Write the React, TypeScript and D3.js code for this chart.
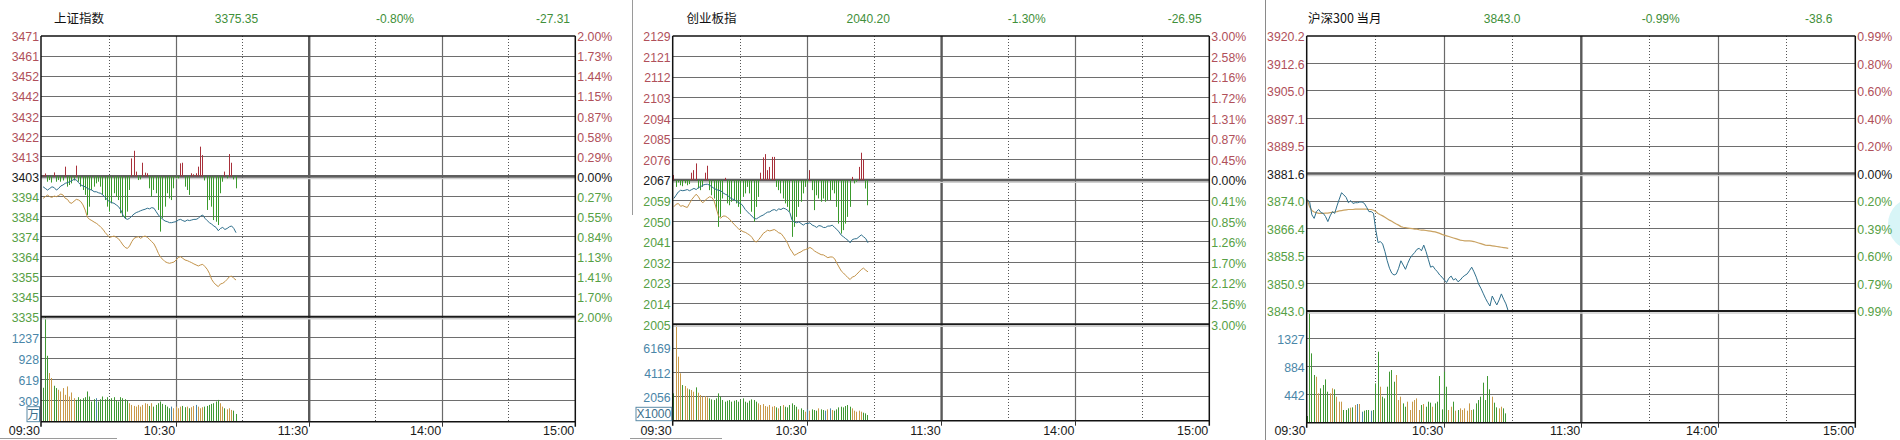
import React from 'react';
import * as d3 from 'd3';

// ---------------- DATA ----------------
// 上证指数 (minute index from 09:30)
const SH_PRICE = [3397.6,3396.8,3396.0,3396.8,3397.6,3397.2,3396.0,3396.8,3398.0,3398.5,
 3399.3,3399.6,3400.1,3400.6,3401.2,3400.9,3399.6,3398.5,3398.0,3397.6,
 3396.8,3396.3,3396.0,3395.2,3395.2,3394.7,3394.4,3393.6,3392.5,3391.2,
 3390.4,3389.9,3389.6,3388.8,3388.0,3386.4,3383.9,3382.3,3381.8,3382.3,
 3383.4,3384.4,3385.1,3385.5,3386.0,3386.4,3386.7,3387.2,3386.9,3387.5,
 3387.2,3385.5,3383.9,3382.8,3381.8,3381.0,3380.7,3380.2,3380.2,3380.5,
 3380.7,3381.5,3381.8,3381.2,3380.8,3381.5,3381.2,3381.5,3381.8,3381.8,
 3382.3,3383.4,3383.9,3382.3,3381.2,3380.2,3379.5,3378.6,3377.9,3376.3,
 3377.4,3377.9,3376.9,3377.4,3378.2,3378.6,3377.4,3375.35];
const SH_AVG = [3392.0,3392.8,3393.6,3392.8,3392.5,3393.1,3392.8,3393.4,3394.1,3393.6,
 3392.0,3391.5,3389.9,3389.6,3390.7,3391.5,3391.2,3390.4,3388.8,3386.3,
 3382.8,3381.8,3381.2,3380.5,3379.9,3379.1,3378.0,3377.0,3375.4,3374.2,
 3373.1,3373.4,3373.7,3373.1,3372.4,3371.0,3369.4,3368.2,3367.7,3368.9,
 3371.0,3372.6,3373.1,3373.4,3372.6,3373.4,3373.7,3373.1,3372.1,3371.0,
 3369.9,3367.8,3365.3,3363.4,3362.4,3361.3,3360.8,3360.5,3360.8,3361.1,
 3362.1,3363.4,3363.7,3362.9,3362.1,3361.8,3361.3,3360.8,3360.2,3359.7,
 3359.2,3359.7,3360.0,3358.9,3357.6,3355.6,3352.7,3351.1,3350.0,3349.2,
 3350.5,3350.8,3351.6,3352.7,3354.0,3354.3,3353.2,3352.4];
const SH_BARS = [0.5,1.4,-2.6,-1.8,-3.0,1.9,-2.6,-1.8,-2.6,-2.0,
 4.7,-5.0,-4.2,-3.4,-2.0,5.2,-2.6,-5.0,-6.6,-9.0,
 -18.7,-14.7,-6.6,-5.0,-3.4,-2.6,-5.0,-9.0,-11.5,-14.7,
 -17.1,-13.1,-8.2,-9.9,-11.5,-17.9,-19.6,-20.4,-17.1,-6.6,
 8.7,12.4,2.3,-1.8,-1.5,6.6,1.8,1.5,-5.8,-9.9,
 -6.6,-8.2,-16.3,-26.8,-20.4,-14.7,-8.2,-10.7,-11.5,-5.8,
 -1.0,-1.0,6.3,6.6,-5.0,-6.6,-9.0,1.5,1.0,1.5,
 4.7,14.4,10.3,-2.0,-16.3,-11.5,-14.7,-21.2,-22.0,-23.6,
 -8.2,-2.6,2.3,-1.0,10.8,6.6,-1.5,-5.8];
const SH_VOL = [500,1546,970,717,643,529,495,470,445,495,
 396,519,371,430,346,321,361,331,346,361,
 445,371,297,331,346,297,331,371,331,361,
 321,346,361,311,297,361,346,331,311,272,
 247,232,222,247,222,247,272,262,232,272,
 222,247,272,297,262,247,222,198,222,198,
 222,198,222,232,213,222,198,213,232,247,
 222,198,213,222,232,247,262,272,297,321,
 272,222,198,183,198,173,163,114];
const SH_LEFT = ["3471","3461","3452","3442","3432","3422","3413","3403","3394","3384","3374","3364","3355","3345","3335"];
const SH_RIGHT = ["2.00%","1.73%","1.44%","1.15%","0.87%","0.58%","0.29%","0.00%","0.27%","0.55%","0.84%","1.13%","1.41%","1.70%","2.00%"];
const SH_VOL_TICKS = ["1237","928","619","309"];

// 创业板指
const CY_PRICE = [2059.3,2060.7,2062.1,2062.8,2062.6,2062.8,2063.1,2062.6,2063.1,2063.6,
 2063.1,2064.0,2064.3,2065.0,2065.3,2065.4,2065.0,2064.3,2063.6,2063.1,
 2062.8,2062.6,2061.7,2061.1,2060.7,2059.7,2059.1,2058.8,2058.1,2057.4,
 2057.1,2056.0,2054.5,2053.5,2052.5,2051.7,2050.6,2050.5,2051.1,2051.7,
 2052.1,2052.8,2053.4,2053.5,2054.2,2054.5,2054.0,2054.8,2054.5,2055.1,
 2054.8,2054.2,2053.1,2049.9,2049.1,2048.8,2049.2,2048.5,2047.8,2048.5,
 2048.5,2048.8,2047.8,2047.4,2046.8,2047.6,2047.4,2046.8,2046.8,2047.4,
 2047.4,2047.8,2046.8,2046.0,2044.9,2043.5,2042.8,2042.0,2041.3,2040.2,
 2041.6,2041.9,2042.0,2042.8,2043.6,2042.8,2042.0,2040.2];
const CY_AVG = [2055.7,2056.8,2057.1,2055.9,2056.2,2055.7,2055.4,2057.1,2058.8,2060.0,
 2061.1,2060.0,2058.3,2057.4,2058.5,2059.3,2060.0,2059.7,2058.3,2055.0,
 2051.7,2050.8,2051.7,2051.7,2051.1,2050.3,2049.1,2048.2,2047.1,2046.2,
 2045.6,2045.0,2044.7,2044.1,2043.5,2042.5,2041.0,2040.5,2041.6,2042.8,
 2044.2,2044.9,2045.6,2045.3,2045.6,2045.9,2045.3,2044.5,2044.2,2043.0,
 2041.6,2039.9,2037.7,2036.3,2034.8,2035.3,2035.9,2036.3,2037.0,2037.3,
 2037.7,2038.2,2037.6,2036.7,2036.1,2035.6,2035.1,2035.0,2034.4,2033.8,
 2034.1,2034.1,2033.4,2031.5,2029.8,2028.1,2027.2,2026.2,2025.2,2024.4,
 2025.5,2025.8,2026.7,2027.7,2028.7,2029.3,2028.4,2027.7];
const CY_BARS = [2.2,-2.9,-1.0,-2.2,-2.6,-1.4,-2.2,-1.7,3.2,4.3,
 7.2,-3.6,-4.3,-2.9,3.2,6.2,-4.3,-6.5,-7.9,-12.9,
 -20.1,-15.8,-7.9,1.0,-10.0,-10.8,-9.3,-8.6,-10.0,-11.5,
 -14.4,-7.2,-5.7,-2.9,-5.7,-13.6,-17.9,-11.5,-7.2,3.2,
 9.8,11.2,4.3,5.7,10.0,10.0,-2.9,-4.3,-5.7,-7.9,
 -10.0,-11.5,-13.6,-24.4,-20.1,-15.8,-11.5,-9.3,-5.7,-2.9,
 -1.4,4.3,-4.3,-12.9,-6.5,-7.9,-9.3,-7.9,-9.3,-8.6,
 -8.6,-4.3,-5.7,-11.5,-18.7,-23.0,-21.5,-18.7,-15.8,-11.5,
 1.4,-1.4,-0.7,5.7,11.8,8.9,-3.6,-10.8];
const CY_VOL = [2338,8225,5461,4044,3043,2958,2759,2673,2616,2474,
 2844,2389,2190,2048,2105,1991,1905,1820,1763,1905,
 2332,2048,1763,1621,1706,1763,1621,1706,1763,1621,
 1820,1905,1621,1536,1706,1820,1763,1621,1479,1337,
 1422,1251,1194,1337,1194,1251,1138,1052,1251,1337,
 1194,1138,1337,1479,1337,1194,967,1052,910,768,
 967,853,967,910,853,1052,967,910,853,967,
 1052,910,853,967,1138,1194,1138,1251,1337,1194,
 1052,853,768,853,768,683,626,483];
const CY_LEFT = ["2129","2121","2112","2103","2094","2085","2076","2067","2059","2050","2041","2032","2023","2014","2005"];
const CY_RIGHT = ["3.00%","2.58%","2.16%","1.72%","1.31%","0.87%","0.45%","0.00%","0.41%","0.85%","1.26%","1.70%","2.12%","2.56%","3.00%"];
const CY_VOL_TICKS = ["6169","4112","2056"];

// 沪深300 当月
const HS_PRICE = [3874.2,3873.7,3870.0,3869.0,3870.9,3871.5,3870.6,3870.4,3869.5,3868.1,3869.7,
 3870.9,3870.4,3872.5,3874.4,3876.2,3875.6,3874.9,3873.4,3874.0,3873.2,
 3873.4,3873.4,3873.6,3873.6,3873.2,3872.1,3870.9,3870.9,3870.4,3865.7,
 3862.2,3862.5,3861.8,3859.7,3857.1,3855.0,3853.6,3853.1,3853.4,3855.0,
 3857.1,3855.9,3854.7,3856.4,3857.8,3858.7,3859.4,3860.3,3860.6,3859.9,
 3861.5,3859.7,3857.5,3855.3,3855.6,3854.7,3854.0,3853.1,3852.5,3851.7,
 3851.0,3852.2,3852.8,3851.7,3852.1,3851.2,3851.7,3852.5,3853.0,3853.4,
 3854.3,3855.3,3854.0,3852.5,3850.6,3849.4,3848.0,3846.6,3845.4,3844.4,
 3847.2,3845.9,3844.7,3846.1,3847.8,3846.3,3845.0,3843.0];
const HS_AVG = [3874.2,3872.3,3871.2,3870.8,3870.6,3870.4,3870.4,3870.4,3870.5,3870.5,3870.6,
 3870.7,3870.8,3870.9,3871.1,3871.2,3871.3,3871.4,3871.5,3871.5,3871.5,
 3871.6,3871.6,3871.6,3871.6,3871.6,3871.6,3871.5,3871.5,3871.3,3870.9,
 3870.4,3870.0,3869.7,3869.3,3868.9,3868.5,3868.2,3867.8,3867.4,3867.1,
 3866.7,3866.5,3866.4,3866.3,3866.2,3866.1,3866.0,3866.0,3865.8,3865.7,
 3865.7,3865.6,3865.5,3865.4,3865.3,3865.2,3865.0,3864.8,3864.5,3864.3,
 3864.1,3863.9,3863.7,3863.5,3863.3,3863.1,3862.9,3862.8,3862.7,3862.7,
 3862.7,3862.6,3862.5,3862.3,3862.1,3861.9,3861.7,3861.5,3861.4,3861.4,
 3861.3,3861.2,3861.1,3861.0,3860.9,3860.8,3860.7,3860.6];
const HS_VOL = [106,1769,1098,755,728,465,544,597,686,491,
 465,544,528,412,333,333,201,201,227,238,
 243,280,296,296,174,190,201,201,190,201,
 623,1124,570,412,385,570,808,834,649,755,
 359,412,306,253,333,201,333,359,385,201,
 280,296,253,333,317,253,306,333,739,211,
 808,570,201,253,333,190,201,227,201,227,
 190,306,201,211,306,359,412,634,359,739,
 528,412,317,243,227,253,227,148];
const HS_LEFT = ["3920.2","3912.6","3905.0","3897.1","3889.5","3881.6","3874.0","3866.4","3858.5","3850.9","3843.0"];
const HS_RIGHT = ["0.99%","0.80%","0.60%","0.40%","0.20%","0.00%","0.20%","0.39%","0.60%","0.79%","0.99%"];
const HS_VOL_TICKS = ["1327","884","442"];

const TIME_LABELS = ["09:30","10:30","11:30","14:00","15:00"];
const TIME_MINUTES = [0, 60, 120, 180, 240];

// ---------------- STYLE / LAYOUT ----------------
const RED = '#b0505a';
const GREEN_TXT = '#56a044';
const VOL_TXT = '#4a86a8';
const HEAD_GREEN = '#3f8f3a';
const BAR_RED = '#a8303a';
const BAR_GREEN = '#3a9a2c';
const VOL_GREEN = '#3f9833';
const VOL_ORANGE = '#c99a4a';
const LINE_BLUE = '#2f6f8c';
const NUM_FONT = "'Liberation Sans', Arial, sans-serif";
const CJK_FONT = "'Noto Sans CJK SC', sans-serif";

type Cfg = {
  title: string; titleX: number; last: string; pctText: string; chgText: string;
  left: number; x0: number; right: number; top: number; mid: number; bottom: number;
  pre: number; pct: number; volMax: number; volN: number;
  price: number[]; avg: number[]; bars: number[] | null; vol: number[];
  leftTicks: string[]; rightTicks: string[]; volTicks: string[];
  unit: { text: string; x: number; w: number; y: number; h: number } | null;
  avgWidth: number; avgColor: string;
};

const PANELS: Cfg[] = [
  { title: '上证指数', titleX: 54, last: '3375.35', pctText: '-0.80%', chgText: '-27.31',
    left: 41, x0: 43.1, right: 575.3, top: 36, mid: 316.7, bottom: 421.7,
    pre: 3402.66, pct: 0.02, volMax: 1546, volN: 5,
    price: SH_PRICE, avg: SH_AVG, bars: SH_BARS, vol: SH_VOL,
    leftTicks: SH_LEFT, rightTicks: SH_RIGHT, volTicks: SH_VOL_TICKS,
    unit: { text: '万', x: 27, w: 12.5, y: 406.7, h: 15 }, avgWidth: 1, avgColor: '#c29248' },
  { title: '创业板指', titleX: 686.5, last: '2040.20', pctText: '-1.30%', chgText: '-26.95',
    left: 672.7, x0: 673.9, right: 1209.3, top: 36, mid: 324.3, bottom: 420.7,
    pre: 2067.15, pct: 0.03, volMax: 8225, volN: 4,
    price: CY_PRICE, avg: CY_AVG, bars: CY_BARS, vol: CY_VOL,
    leftTicks: CY_LEFT, rightTicks: CY_RIGHT, volTicks: CY_VOL_TICKS,
    unit: { text: 'X1000', x: 636, w: 35.7, y: 407.3, h: 13.4 }, avgWidth: 1, avgColor: '#c29248' },
  { title: '沪深300 当月', titleX: 1308, last: '3843.0', pctText: '-0.99%', chgText: '-38.6',
    left: 1306.7, x0: 1307.3, right: 1855.3, top: 36, mid: 311, bottom: 422.7,
    pre: 3881.6, pct: 38.6 / 3881.6, volMax: 1769, volN: 4,
    price: HS_PRICE, avg: HS_AVG, bars: null, vol: HS_VOL,
    leftTicks: HS_LEFT, rightTicks: HS_RIGHT, volTicks: HS_VOL_TICKS,
    unit: null, avgWidth: 1.2, avgColor: '#c9a262' },
];

const crisp = (v: number) => Math.round(v - 0.5) + 0.5;

function Panel({ p }: { p: Cfg }) {
  const x = d3.scaleLinear().domain([0, 240]).range([p.x0, p.right]);
  const lo = p.pre * (1 - p.pct);
  const hi = p.pre * (1 + p.pct);
  const y = d3.scaleLinear().domain([lo, hi]).range([p.mid, p.top]);
  const yv = d3.scaleLinear().domain([0, p.volMax]).range([p.bottom, p.mid]).clamp(true);
  const n = p.leftTicks.length - 1;
  const zi = n / 2;
  const gy = p.leftTicks.map((_, k) => y(hi - (k * (hi - lo)) / n));
  const step = p.volMax / p.volN;
  const vy = p.volTicks.map((_, k) => yv(step * (p.volTicks.length - k)));
  const line = d3.line<number>().x((_, i) => x(i)).y((d) => y(d));
  const labelColor = (k: number) => (k < zi ? RED : k === zi ? '#1a1a1a' : GREEN_TXT);
  const dotted = [30, 90, 150, 210];
  const solid = [60, 180];
  const y0 = y(p.pre);

  const volColor = (i: number) => {
    const prev = i === 0 ? p.pre : p.price[i - 1];
    const cur = p.price[Math.min(i, p.price.length - 1)];
    if (cur > prev) return VOL_ORANGE;
    if (cur < prev) return VOL_GREEN;
    return VOL_TXT;
  };

  return (
    <g>
      {/* header */}
      <text x={p.titleX} y={23} fontFamily={CJK_FONT} fontSize={12.5} fill="#111">{p.title}</text>
      <text x={p.left + 195.5} y={22.5} textAnchor="middle" fontFamily={NUM_FONT} fontSize={12} fill={HEAD_GREEN}>{p.last}</text>
      <text x={p.left + 354} y={22.5} textAnchor="middle" fontFamily={NUM_FONT} fontSize={12} fill={HEAD_GREEN}>{p.pctText}</text>
      <text x={p.left + 512} y={22.5} textAnchor="middle" fontFamily={NUM_FONT} fontSize={12} fill={HEAD_GREEN}>{p.chgText}</text>

      {/* horizontal grid price pane */}
      {gy.map((gyv, k) =>
        k === 0 || k === n || k === zi ? null : (
          <line key={'hg' + k} x1={p.left} x2={p.right} y1={crisp(gyv)} y2={crisp(gyv)} stroke="#6e6e6e" strokeWidth={1} />
        )
      )}
      {/* volume grid */}
      {vy.map((v, k) => (
        <line key={'vg' + k} x1={p.left} x2={p.right} y1={crisp(v)} y2={crisp(v)} stroke="#6e6e6e" strokeWidth={1} />
      ))}
      {/* vertical grid */}
      {dotted.map((m) => (
        <line key={'d' + m} x1={crisp(x(m))} x2={crisp(x(m))} y1={p.top} y2={p.bottom} stroke="#555" strokeWidth={1} strokeDasharray="1,2" />
      ))}
      {solid.map((m) => (
        <line key={'s' + m} x1={crisp(x(m))} x2={crisp(x(m))} y1={p.top} y2={p.bottom} stroke="#6a6a6a" strokeWidth={1.2} />
      ))}
      <line x1={x(120)} x2={x(120)} y1={p.top} y2={p.bottom} stroke="#5a5a5a" strokeWidth={2.4} />

      {/* zero line */}
      <line x1={p.left} x2={p.right} y1={y0} y2={y0} stroke="#5e5e5e" strokeWidth={2.6} />
      <line x1={p.left} x2={p.right} y1={y0 + 2.2} y2={y0 + 2.2} stroke="#d0d0d0" strokeWidth={1.2} />

      {/* up/down bars */}
      {p.bars &&
        p.bars.map((v, i) => (
          <line key={'b' + i} x1={crisp(x(i))} x2={crisp(x(i))} y1={y0} y2={y(p.pre + v)} stroke={v >= 0 ? BAR_RED : BAR_GREEN} strokeWidth={1} />
        ))}

      {/* volume bars */}
      {p.vol.map((v, i) => (
        <line key={'v' + i} x1={crisp(x(i))} x2={crisp(x(i))} y1={p.bottom} y2={yv(v)} stroke={volColor(i)} strokeWidth={1} />
      ))}

      {/* lines */}
      <path d={line(p.avg) || ''} fill="none" stroke={p.avgColor} strokeWidth={p.avgWidth} />
      <path d={line(p.price) || ''} fill="none" stroke={LINE_BLUE} strokeWidth={1} />

      {/* separator price / volume */}
      <line x1={p.left} x2={p.right} y1={p.mid} y2={p.mid} stroke="#1a1a1a" strokeWidth={2} />
      <line x1={p.left} x2={p.right} y1={p.mid + 2} y2={p.mid + 2} stroke="#cfcfcf" strokeWidth={1.5} />

      {/* frame */}
      <line x1={p.left} x2={p.right} y1={p.top} y2={p.top} stroke="#111" strokeWidth={1.5} />
      <line x1={p.left} x2={p.right} y1={p.bottom} y2={p.bottom} stroke="#111" strokeWidth={1.5} />
      <line x1={p.left} x2={p.left} y1={p.top} y2={p.bottom + 5} stroke="#111" strokeWidth={1.5} />
      <line x1={p.right} x2={p.right} y1={p.top} y2={p.bottom + 5} stroke="#111" strokeWidth={1.5} />
      {TIME_MINUTES.slice(1, 4).map((m) => (
        <line key={'t' + m} x1={crisp(x(m))} x2={crisp(x(m))} y1={p.bottom} y2={p.bottom + 5} stroke="#333" strokeWidth={1} />
      ))}

      {/* left price labels */}
      {p.leftTicks.map((t, k) => (
        <text key={'l' + k} x={p.left - 2} y={gy[k] + 5.3} textAnchor="end" fontFamily={NUM_FONT} fontSize={12.3} fill={labelColor(k)}>{t}</text>
      ))}
      {/* right pct labels */}
      {p.rightTicks.map((t, k) => (
        <text key={'r' + k} x={p.right + 2} y={gy[k] + 5.3} textAnchor="start" fontFamily={NUM_FONT} fontSize={12.3} fill={labelColor(k)}>{t}</text>
      ))}
      {/* volume labels */}
      {p.volTicks.map((t, k) => (
        <text key={'vl' + k} x={p.left - 2} y={vy[k] + 5} textAnchor="end" fontFamily={NUM_FONT} fontSize={12.3} fill={VOL_TXT}>{t}</text>
      ))}
      {p.unit && (
        <g>
          <rect x={p.unit.x} y={p.unit.y} width={p.unit.w} height={p.unit.h} fill="#fff" stroke="#5a8aa6" strokeWidth={1} />
          <text x={p.unit.x + p.unit.w / 2} y={p.unit.y + p.unit.h - 2.5} textAnchor="middle" fontFamily={p.unit.text === '万' ? CJK_FONT : NUM_FONT} fontSize={12} fill="#3c6f8c">{p.unit.text}</text>
        </g>
      )}
      {/* time labels */}
      {TIME_LABELS.map((t, k) => (
        <text key={'tl' + k} x={(k === 0 ? p.left : x(TIME_MINUTES[k])) - 1} y={435} textAnchor="end" fontFamily={NUM_FONT} fontSize={12.5} fill="#1a1a1a">{t}</text>
      ))}
    </g>
  );
}

export default function App() {
  return (
    <svg width={1900} height={440} style={{ position: 'absolute', left: 0, top: 0, display: 'block' }}>
      <rect x={0} y={0} width={1900} height={440} fill="#ffffff" />
      <circle cx={1914} cy={224} r={26} fill="#d8f5f7" />
      {/* panel separators */}
      <line x1={632.5} x2={632.5} y1={0} y2={215} stroke="#9a9a9a" strokeWidth={1} />
      <line x1={1265.5} x2={1265.5} y1={0} y2={440} stroke="#8a8a8a" strokeWidth={1} />
      <line x1={0} x2={117} y1={438.5} y2={438.5} stroke="#9a9a9a" strokeWidth={1} />
      <line x1={630} x2={722} y1={438.5} y2={438.5} stroke="#9a9a9a" strokeWidth={1} />
      {PANELS.map((p, i) => (
        <Panel key={i} p={p} />
      ))}
    </svg>
  );
}
